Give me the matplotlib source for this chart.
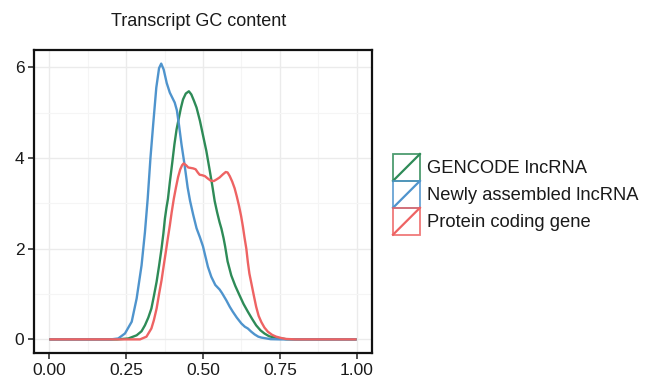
import matplotlib
matplotlib.use("Agg")
import matplotlib.pyplot as plt
from matplotlib.patches import Rectangle
from matplotlib.lines import Line2D
from matplotlib.legend_handler import HandlerBase

plt.rcParams['font.family'] = ['Liberation Sans', 'DejaVu Sans']

title = "Transcript GC content"
series_names = ["GENCODE lncRNA", "Newly assembled lncRNA", "Protein coding gene"]
series_colors = ["#2E8B57", "#4F94CD", "#EE6363"]

# GENCODE lncRNA density
gencode_x = [0.0, 0.22, 0.257, 0.284, 0.300, 0.311, 0.322, 0.332, 0.340, 0.349, 0.357, 0.365,
             0.371, 0.376, 0.381, 0.386, 0.392, 0.400, 0.407, 0.414, 0.422, 0.428, 0.435,
             0.444, 0.454, 0.462, 0.470, 0.479, 0.490, 0.500, 0.511, 0.522, 0.530, 0.538,
             0.546, 0.554, 0.560, 0.567, 0.572, 0.580, 0.592, 0.605, 0.619, 0.632, 0.646,
             0.660, 0.673, 0.687, 0.700, 0.715, 0.733, 0.770, 0.800, 1.0]
gencode_y = [0.0, 0.0, 0.02, 0.09, 0.18, 0.31, 0.48, 0.68, 0.95, 1.27, 1.62, 2.00,
             2.33, 2.66, 2.90, 3.10, 3.46, 3.90, 4.30, 4.63, 4.90, 5.10, 5.29,
             5.42, 5.47, 5.40, 5.27, 5.11, 4.82, 4.50, 4.15, 3.72, 3.40, 3.05,
             2.80, 2.58, 2.44, 2.23, 2.05, 1.72, 1.41, 1.18, 0.97, 0.78, 0.61,
             0.45, 0.31, 0.20, 0.13, 0.07, 0.04, 0.005, 0.0, 0.0]

# Newly assembled lncRNA density
newly_x = [0.0, 0.20, 0.224, 0.246, 0.268, 0.284, 0.300, 0.311, 0.320, 0.329, 0.338, 0.348,
           0.357, 0.364, 0.372, 0.382, 0.392, 0.400, 0.408, 0.415, 0.422, 0.430, 0.440,
           0.450, 0.458, 0.468, 0.479, 0.490, 0.500, 0.506, 0.516, 0.527, 0.540, 0.554,
           0.562, 0.576, 0.587, 0.597, 0.610, 0.625, 0.636, 0.646, 0.657, 0.668, 0.680,
           0.690, 0.720, 0.750, 1.0]
newly_y = [0.0, 0.0, 0.02, 0.13, 0.39, 0.90, 1.63, 2.36, 3.10, 4.00, 4.75, 5.55,
           5.98, 6.08, 5.95, 5.65, 5.44, 5.33, 5.22, 5.05, 4.72, 4.30, 3.85,
           3.35, 3.05, 2.75, 2.45, 2.25, 2.05, 1.88, 1.60, 1.38, 1.20, 1.10,
           1.02, 0.86, 0.72, 0.61, 0.48, 0.35, 0.28, 0.24, 0.17, 0.11, 0.06,
           0.04, 0.005, 0.0, 0.0]

# Protein coding gene density
protein_x = [0.0, 0.28, 0.295, 0.316, 0.332, 0.340, 0.349, 0.357, 0.365, 0.372, 0.379, 0.386,
             0.392, 0.398, 0.405, 0.412, 0.419, 0.426, 0.432, 0.437, 0.445, 0.452, 0.460,
             0.468, 0.476, 0.483, 0.489, 0.497, 0.506, 0.515, 0.525, 0.535, 0.545, 0.554,
             0.565, 0.574, 0.580, 0.587, 0.595, 0.603, 0.610, 0.617, 0.624, 0.630, 0.635,
             0.641, 0.646, 0.651, 0.657, 0.665, 0.673, 0.681, 0.690, 0.700, 0.711, 0.725,
             0.738, 0.755, 0.770, 0.800, 1.0]
protein_y = [0.0, 0.0, 0.0, 0.06, 0.24, 0.42, 0.68, 1.00, 1.30, 1.62, 1.93, 2.25,
             2.51, 2.80, 3.10, 3.35, 3.58, 3.75, 3.84, 3.88, 3.84, 3.79, 3.78,
             3.77, 3.75, 3.68, 3.63, 3.62, 3.60, 3.55, 3.50, 3.49, 3.53, 3.57,
             3.64, 3.69, 3.68, 3.60, 3.48, 3.33, 3.15, 2.95, 2.72, 2.48, 2.25,
             2.00, 1.70, 1.45, 1.25, 0.98, 0.72, 0.52, 0.38, 0.26, 0.17, 0.10,
             0.06, 0.03, 0.01, 0.0, 0.0]

x_ticks = [0.0, 0.25, 0.5, 0.75, 1.0]
x_tick_labels = ["0.00", "0.25", "0.50", "0.75", "1.00"]
y_ticks = [0, 2, 4, 6]
y_tick_labels = ["0", "2", "4", "6"]

series_x = [gencode_x, newly_x, protein_x]
series_y = [gencode_y, newly_y, protein_y]

fig = plt.figure(figsize=(6.45, 3.87), dpi=100)
ax = fig.add_axes([34 / 645, 1 - 353 / 387, (372 - 34) / 645, (353 - 50) / 387])

for xs, ys, c, name in zip(series_x, series_y, series_colors, series_names):
    ax.plot(xs, ys, color=c, lw=1.7, solid_capstyle='butt', label=name)

ax.set_xlim(-0.05, 1.05)
ax.set_ylim(-0.30, 6.38)
ax.set_xticks(x_ticks)
ax.set_xticklabels(x_tick_labels)
ax.set_yticks(y_ticks)
ax.set_yticklabels(y_tick_labels)
ax.set_xticks([0.125, 0.375, 0.625, 0.875], minor=True)
ax.set_yticks([1, 3, 5], minor=True)
ax.grid(True, which='major', color='#EBEBEB', lw=1.0)
ax.grid(True, which='minor', color='#F5F5F5', lw=0.8)
ax.set_axisbelow(True)
ax.tick_params(which='minor', length=0)
ax.tick_params(which='major', length=4, width=1.1, color='#222222', pad=3,
               labelsize=12.5, labelcolor='#1a1a1a')
for s in ax.spines.values():
    s.set_linewidth(1.6)
    s.set_color('#111111')

ax.set_title(title, fontsize=13, pad=17, color='#1a1a1a', x=0.487)


class BoxSlashHandler(HandlerBase):
    def create_artists(self, legend, orig_handle, xdescent, ydescent, width, height, fontsize, trans):
        c = orig_handle.get_color()
        r = Rectangle((-xdescent, -ydescent), width, height, facecolor='none',
                      edgecolor=c, lw=1.3, alpha=0.85, transform=trans)
        l = Line2D([-xdescent, width - xdescent], [-ydescent, height - ydescent],
                   color=c, lw=1.6, transform=trans)
        return [r, l]


handles = ax.get_lines()
fig.legend(handles, series_names, handler_map={Line2D: BoxSlashHandler()},
           loc='upper left', bbox_to_anchor=(393 / 645, 1 - 154 / 387),
           bbox_transform=fig.transFigure, frameon=False, fontsize=13.2,
           handlelength=1.47, handleheight=1.88, labelspacing=0.0,
           handletextpad=0.37, borderpad=0.0, borderaxespad=0.0,
           labelcolor='#1a1a1a')

fig.savefig("out.png", dpi=100)
